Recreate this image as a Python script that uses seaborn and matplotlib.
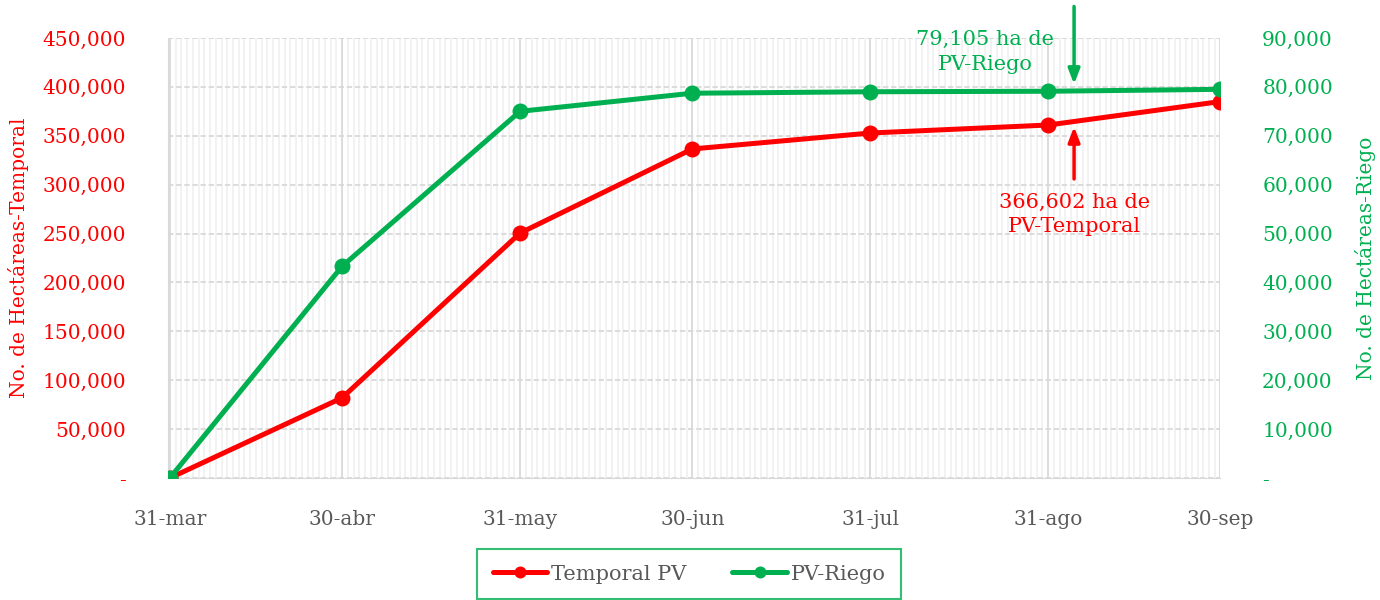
import pandas as pd
import matplotlib
matplotlib.use("Agg")
import matplotlib.pyplot as plt
import matplotlib.dates as mdates
from matplotlib.ticker import FuncFormatter, MultipleLocator
import seaborn as sb

fechas = ['2023-03-31', '2023-04-30', '2023-05-31', '2023-06-30',
          '2023-07-31', '2023-08-31', '2023-09-30']
etiquetas = ['31-mar', '30-abr', '31-may', '30-jun', '31-jul', '31-ago', '30-sep']
temporal_pv = [0, 82000, 250500, 336500, 352800, 361000, 385000]
riego_pv = [0, 43300, 75000, 78700, 79000, 79105, 79500]

rojo = '#FF0000'
verde = '#00B050'
gris = '#595959'

df = pd.DataFrame({'fecha': pd.to_datetime(fechas),
                   'temporal': temporal_pv,
                   'riego': riego_pv})

sb.set_style("white")
plt.rcParams['font.family'] = ['DejaVu Serif', 'DejaVu Sans']

fig = plt.figure(figsize=(13.8, 6), dpi=100)
ax = fig.add_axes([0.1217, 0.2033, 0.7627, 0.7334])
ax2 = ax.twinx()

sb.lineplot(data=df, x='fecha', y='temporal', ax=ax, color=rojo, linewidth=3.6,
            marker='o', markersize=11.5, markeredgewidth=0, label='Temporal PV', legend=False, zorder=3)
sb.lineplot(data=df, x='fecha', y='riego', ax=ax2, color=verde, linewidth=3.6,
            marker='o', markersize=11.5, markeredgewidth=0, label='PV-Riego', legend=False, zorder=3)

ax.set_xlim(df['fecha'].iloc[0] - pd.Timedelta(hours=8), df['fecha'].iloc[-1])
ax.set_ylim(0, 450000)
ax2.set_ylim(0, 90000)

# grid
ax.set_xticks(df['fecha'])
ax.set_xticklabels(etiquetas)
ax.xaxis.set_minor_locator(mdates.DayLocator())
ax.grid(which='minor', axis='x', color='#F0F0F0', linewidth=1.2)
ax.grid(which='major', axis='x', color='#D9D9D9', linewidth=1.3)
ax.yaxis.set_major_locator(MultipleLocator(50000))
ax.grid(which='major', axis='y', color='#D9D9D9', linewidth=1.3, linestyle=(0, (3, 1.5)))
ax.set_axisbelow(True)
ax2.yaxis.set_major_locator(MultipleLocator(10000))

fmt = FuncFormatter(lambda v, p: '-' if v == 0 else f'{v:,.0f}')
ax.yaxis.set_major_formatter(fmt)
ax2.yaxis.set_major_formatter(fmt)

ax.tick_params(axis='x', which='major', length=9, width=1, color='#D9D9D9',
               labelsize=14.5, labelcolor=gris, pad=14)
ax.tick_params(axis='x', which='minor', length=0)
ax.tick_params(axis='y', length=0, labelsize=14.5, labelcolor=rojo, pad=30)
ax2.tick_params(axis='y', length=0, labelsize=14.5, labelcolor=verde, pad=30)

for a in (ax, ax2):
    for s in a.spines.values():
        s.set_visible(False)
ax.spines['left'].set_visible(True)
ax.spines['left'].set_color('#D9D9D9')
ax.spines['bottom'].set_visible(True)
ax.spines['bottom'].set_color('#D9D9D9')

ax.set_xlabel('')
ax.set_ylabel('No. de Hectáreas-Temporal', color=rojo, fontsize=14.5, labelpad=10)
ax2.set_ylabel('No. de Hectáreas-Riego', color=verde, fontsize=14.5, labelpad=16)

# anotaciones
x_flecha = df['fecha'].iloc[5] + pd.Timedelta(days=4.5)
ax2.annotate('', xy=(x_flecha, 80000), xytext=(x_flecha, 97000),
             arrowprops=dict(arrowstyle='-|>,head_width=0.35,head_length=0.9', color=verde, lw=2.5),
             annotation_clip=False)
ax2.text(df['fecha'].iloc[5] - pd.Timedelta(days=11), 91600, '79,105 ha de\nPV-Riego',
         color=verde, fontsize=15, ha='center', va='top', linespacing=1.4)
ax.annotate('', xy=(x_flecha, 362000), xytext=(x_flecha, 303000),
            arrowprops=dict(arrowstyle='-|>,head_width=0.35,head_length=0.9', color=rojo, lw=2.5))
ax.text(x_flecha, 292000, '366,602 ha de\nPV-Temporal',
        color=rojo, fontsize=15, ha='center', va='top', linespacing=1.4)

handles = ax.get_lines()[:1] + ax2.get_lines()[:1]
leg = fig.legend(handles, ['Temporal PV', 'PV-Riego'], loc='upper center',
                 bbox_to_anchor=(0.4995, 0.085), ncol=2, frameon=True, fancybox=False,
                 fontsize=15, handlelength=2.6, handletextpad=0.2, columnspacing=2.2,
                 borderpad=0.75, borderaxespad=0.0, labelcolor=gris, markerscale=0.75)
leg.get_frame().set_edgecolor(verde)
leg.get_frame().set_linewidth(1.5)
leg.get_frame().set_boxstyle('square', pad=0.0)

fig.savefig('out.png', dpi=100)
